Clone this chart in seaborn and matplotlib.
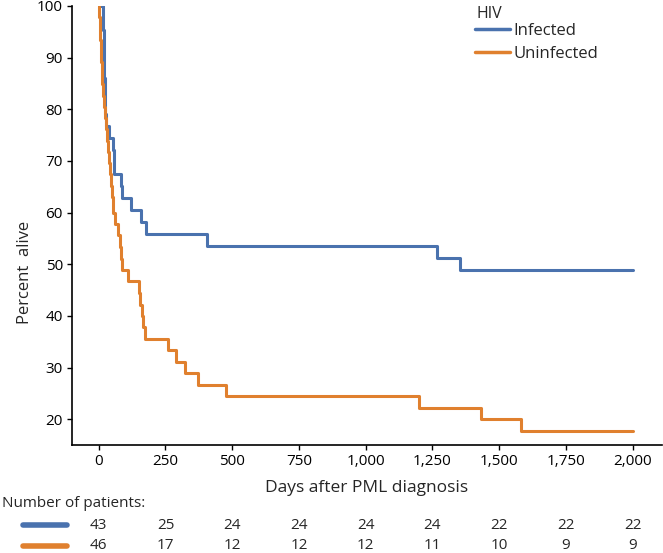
import matplotlib
matplotlib.use('Agg')
import matplotlib.pyplot as plt
import matplotlib.transforms as mtransforms
from matplotlib.lines import Line2D
import numpy as np
import pandas as pd
import seaborn as sns

# survival curves (days, percent alive)
infected_days = [0, 15, 19, 20, 21, 21.5, 22, 23, 24, 26, 39, 55, 56, 57, 84, 88,
                 122, 160, 179, 404, 1266, 1352, 2000]
infected_pct = [100, 95.3, 93.0, 90.7, 88.4, 86.0, 83.7, 81.4, 79.1, 76.7, 74.4,
                72.1, 69.8, 67.4, 65.1, 62.8, 60.5, 58.1, 55.8, 53.5, 51.2, 48.8, 48.8]

uninfected_days = [0, 2, 4, 6, 8, 10, 12, 14, 16, 19, 22, 26, 31, 36, 39, 42, 45,
                   48, 52, 60, 74, 78, 82, 86, 110, 151, 156, 161, 166, 172, 260,
                   291, 322, 372, 478, 1199, 1431, 1581, 2000]
uninfected_pct = [100, 97.8, 95.7, 93.5, 91.3, 89.1, 87.0, 84.8, 82.6, 80.4, 78.3,
                  76.1, 73.9, 71.7, 69.6, 67.4, 65.2, 63.0, 60.0, 57.8, 55.6, 53.3,
                  51.1, 48.9, 46.7, 44.4, 42.2, 40.0, 37.8, 35.6, 33.3, 31.1, 28.9,
                  26.7, 24.4, 22.2, 20.0, 17.8, 17.8]

groups = ["Infected", "Uninfected"]
risk_times = [0, 250, 500, 750, 1000, 1250, 1500, 1750, 2000]
risk_infected = [43, 25, 24, 24, 24, 24, 22, 22, 22]
risk_uninfected = [46, 17, 12, 12, 12, 11, 10, 9, 9]

colors = {"Infected": "#4A72AE", "Uninfected": "#E0802E"}

df = pd.concat([
    pd.DataFrame({"days": infected_days, "pct": infected_pct, "HIV": "Infected"}),
    pd.DataFrame({"days": uninfected_days, "pct": uninfected_pct, "HIV": "Uninfected"}),
])

sns.set_style("ticks")
plt.rcParams['font.family'] = ['Open Sans', 'DejaVu Sans']

fig = plt.figure(figsize=(6.63, 5.53), dpi=100)
ax = fig.add_axes([0.1086, 0.1953, 0.89, 0.7939])

sns.lineplot(data=df, x="days", y="pct", hue="HIV", hue_order=groups,
             palette=colors, drawstyle="steps-post", linewidth=2.2,
             estimator=None, ax=ax, legend=False)

ax.set_xlim(-100, 2110)
ax.set_ylim(15, 100)
ax.set_xticks(risk_times)
ax.set_xticklabels([f"{t:,}" for t in risk_times])
ax.set_yticks(range(20, 101, 10))
ax.tick_params(labelsize=11, length=3.5, width=1, colors="black", pad=3)
for s in ["top", "right"]:
    ax.spines[s].set_visible(False)
for s in ["left", "bottom"]:
    ax.spines[s].set_linewidth(1.2)
    ax.spines[s].set_color("black")
ax.set_xlabel("Days after PML diagnosis", fontsize=12.5, labelpad=8)
ax.set_ylabel("Percent  alive", fontsize=12)
ax.yaxis.set_label_coords(-0.066, 0.394)

# legend
fig.text(477 / 663, 1 - 14 / 553, "HIV", fontsize=11.5, va="center")
handles = [Line2D([0], [0], color=colors[g], lw=2.5) for g in groups]
fig.legend(handles, groups, frameon=False, fontsize=12, loc="upper left",
           bbox_to_anchor=(0.716, 0.958), borderpad=0, borderaxespad=0,
           handlelength=2.1, handletextpad=0.2, labelspacing=0.38)

# number at risk table
fig.text(0.003, 0.0904, "Number of patients:", fontsize=11, va="center")
trans = mtransforms.blended_transform_factory(ax.transData, fig.transFigure)
for row_y, counts, g in [(0.0506, risk_infected, "Infected"),
                         (0.0127, risk_uninfected, "Uninfected")]:
    fig.add_artist(Line2D([0.0347, 0.101], [row_y, row_y], color=colors[g],
                          lw=4, solid_capstyle="round", transform=fig.transFigure))
    for t, n in zip(risk_times, counts):
        fig.text(t, row_y, str(n), transform=trans, ha="center", va="center",
                 fontsize=11)

fig.savefig("out.png", dpi=100)
